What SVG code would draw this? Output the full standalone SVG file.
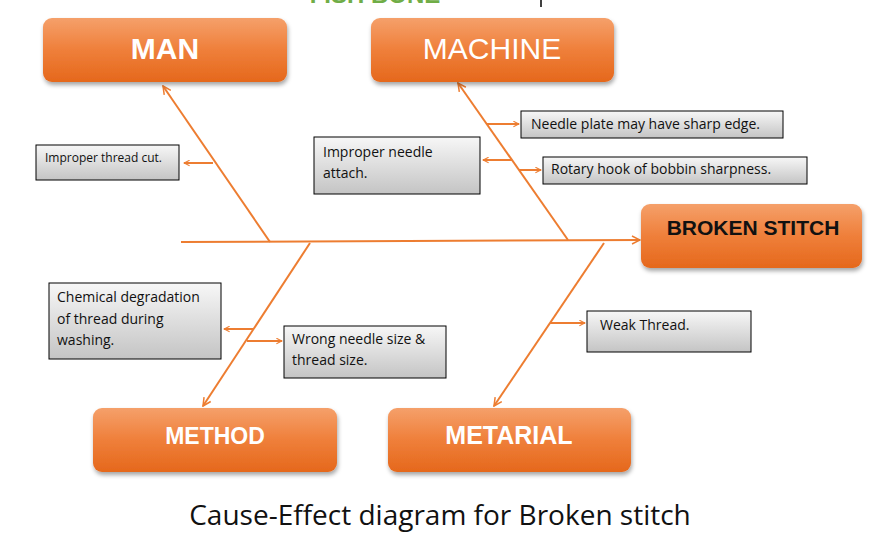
<svg xmlns="http://www.w3.org/2000/svg" width="882" height="541" viewBox="0 0 882 541">
<defs>
<linearGradient id="og" x1="0" y1="0" x2="0" y2="1"><stop offset="0" stop-color="#f5a06a"/><stop offset="0.5" stop-color="#ef7f3a"/><stop offset="1" stop-color="#e5681c"/></linearGradient>
<linearGradient id="gg" x1="0" y1="0" x2="0" y2="1"><stop offset="0" stop-color="#f7f7f7"/><stop offset="1" stop-color="#c4c4c4"/></linearGradient>
<filter id="sh" x="-10%" y="-10%" width="125%" height="135%"><feDropShadow dx="1" dy="3" stdDeviation="2" flood-opacity="0.35"/></filter>
<marker id="ar" viewBox="0 0 10 10" refX="9" refY="5" markerWidth="7" markerHeight="7" orient="auto" markerUnits="userSpaceOnUse"><path d="M1,1 L9,5 L1,9" fill="none" stroke="#ed7d31" stroke-width="1.5"/></marker>
<marker id="ab" viewBox="0 0 10 10" refX="9" refY="5" markerWidth="10" markerHeight="10" orient="auto" markerUnits="userSpaceOnUse"><path d="M1,1 L9,5 L1,9" fill="none" stroke="#ed7d31" stroke-width="1.5"/></marker>
<style>
.ob{fill:url(#og);filter:url(#sh)}
.ot{font-family:"Liberation Sans",Arial,sans-serif;font-weight:bold;fill:#fff;text-anchor:middle}
.gb{fill:url(#gg);stroke:#000;stroke-width:1}
.gt{font-family:"Open Sans","Liberation Sans",sans-serif;font-size:14px;fill:#111}
.ln{stroke:#ed7d31;stroke-width:2;fill:none}
.sm{stroke:#ed7d31;stroke-width:2;fill:none;marker-end:url(#ar)}
</style>
</defs>
<rect width="882" height="541" fill="#fff"/>
<text x="375" y="3" font-family="Liberation Sans,sans-serif" font-weight="bold" font-size="24" fill="#70ad47" text-anchor="middle">FISH BONE</text>
<line x1="541" y1="0" x2="541" y2="7" stroke="#000" stroke-width="1.5"/>
<g id="connectors">
<line class="ln" x1="181" y1="242" x2="640" y2="240" marker-end="url(#ab)"/>
<line class="ln" x1="270" y1="242" x2="163" y2="86" marker-end="url(#ab)"/>
<line class="ln" x1="568" y1="240" x2="458" y2="83" marker-end="url(#ab)"/>
<line class="ln" x1="310" y1="243" x2="203" y2="406" marker-end="url(#ab)"/>
<line class="ln" x1="604" y1="243" x2="494" y2="406" marker-end="url(#ab)"/>
<line class="sm" x1="213" y1="163" x2="184" y2="163"/>
<line class="sm" x1="487" y1="124" x2="519" y2="124"/>
<line class="sm" x1="512" y1="160" x2="483" y2="160"/>
<line class="sm" x1="519" y1="170" x2="541" y2="170"/>
<line class="sm" x1="254" y1="329" x2="224" y2="329"/>
<line class="sm" x1="247" y1="341" x2="282" y2="341"/>
<line class="sm" x1="550" y1="323" x2="585" y2="323"/>
</g>
<g id="man"><rect class="ob" x="43" y="18" width="244" height="64" rx="9"/><text class="ot" x="165" y="59" font-size="30">MAN</text></g>
<g id="machine"><rect class="ob" x="371" y="18" width="243" height="64" rx="9"/><text class="ot" x="492" y="59" font-size="30" style="font-weight:normal">MACHINE</text></g>
<g id="broken"><rect class="ob" x="641" y="204" width="221" height="64" rx="9"/><text class="ot" x="753" y="235" font-size="21" style="fill:#111">BROKEN STITCH</text></g>
<g id="method"><rect class="ob" x="93" y="408" width="244" height="64" rx="9"/><text class="ot" x="215" y="444" font-size="23">METHOD</text></g>
<g id="metarial"><rect class="ob" x="388" y="408" width="243" height="64" rx="9"/><text class="ot" x="509" y="444" font-size="25">METARIAL</text></g>
<g id="c1"><rect class="gb" x="36" y="145" width="143" height="35"/><text class="gt" x="45" y="162" style="font-size:12px">Improper  thread cut.</text></g>
<g id="c2"><rect class="gb" x="521" y="111" width="262" height="27"/><text class="gt" x="531" y="129">Needle plate may have sharp edge.</text></g>
<g id="c3"><rect class="gb" x="314" y="137" width="166" height="57"/><text class="gt" x="323" y="157">Improper needle</text><text class="gt" x="323" y="178">attach.</text></g>
<g id="c4"><rect class="gb" x="543" y="157" width="264" height="27"/><text class="gt" x="551" y="174">Rotary hook of bobbin sharpness.</text></g>
<g id="c5"><rect class="gb" x="49" y="283" width="172" height="76"/><text class="gt" x="57" y="302">Chemical degradation</text><text class="gt" x="57" y="324">of thread during</text><text class="gt" x="57" y="345">washing.</text></g>
<g id="c6"><rect class="gb" x="284" y="326" width="162" height="52"/><text class="gt" x="292" y="344">Wrong needle size &amp;</text><text class="gt" x="292" y="365">thread size.</text></g>
<g id="c7"><rect class="gb" x="587" y="311" width="164" height="41"/><text class="gt" x="600" y="330">Weak Thread.</text></g>
<text x="440" y="525" font-family="Open Sans,Liberation Sans,sans-serif" font-size="28" fill="#111" text-anchor="middle">Cause-Effect  diagram for Broken stitch</text>
</svg>
